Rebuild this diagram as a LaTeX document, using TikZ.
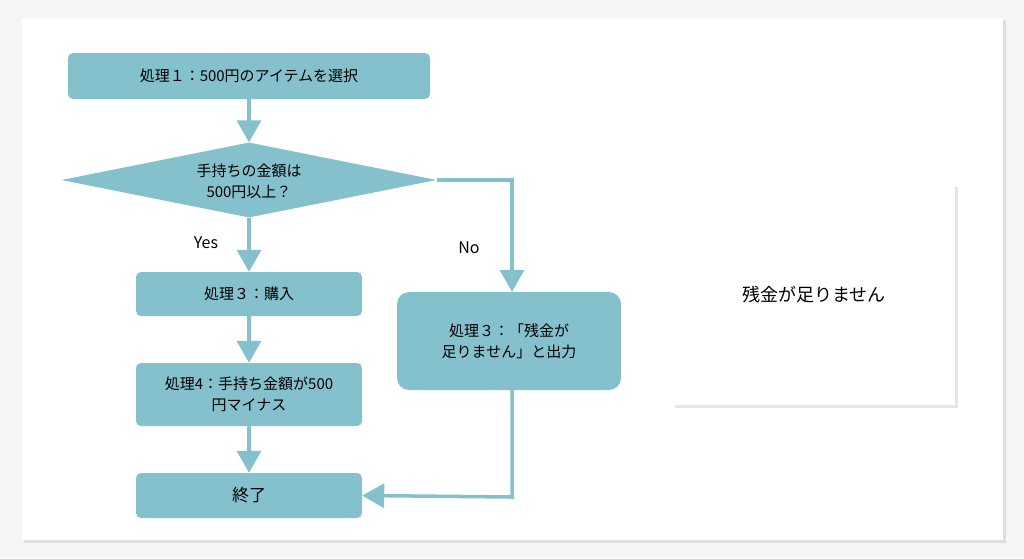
\documentclass[tikz,border=0pt]{standalone}
\usepackage{fontspec}
\setmainfont{Noto Sans CJK JP}
\usetikzlibrary{arrows.meta,shapes.geometric}
\definecolor{teal}{HTML}{85C1CC}
\begin{document}
\begin{tikzpicture}[x=1pt,y=-1pt,
  box/.style={fill=teal,rounded corners=5pt,inner sep=0pt,align=center,font=\fontsize{15}{21}\selectfont},
  arr/.style={draw=teal,line width=3.5pt,-{Triangle[length=22pt,width=24pt]}},
  lab/.style={font=\fontsize{16}{20}\selectfont}]
\useasboundingbox (0,0) rectangle (1024,558);
\fill[gray!8] (0,0) rectangle (1024,558);
\fill[gray!25] (24,20) rectangle (1006,543);
\fill[white] (22,18) rectangle (1003,540);
\fill[gray!20] (675,187) rectangle (958,408);
\fill[white] (673,185) rectangle (955,405);
\node[lab,font=\fontsize{18}{22}\selectfont] (msg) at (814,295) {残金が足りません};
\node[box,minimum width=362pt,minimum height=46pt] (b1) at (249,76) {処理１：500円のアイテムを選択};
\node[diamond,fill=teal,inner sep=0pt,minimum width=375pt,minimum height=75pt,aspect=5,align=center,font=\fontsize{15}{21}\selectfont] (d) at (249,180) {};
\node[align=center,font=\fontsize{15}{21}\selectfont] (dt) at (249,181) {手持ちの金額は\\500円以上？};
\node[box,minimum width=226pt,minimum height=44pt] (b3) at (249,294) {処理３：購入};
\node[box,minimum width=226pt,minimum height=63pt] (b4) at (249,394.5) {処理4：手持ち金額が500\\円マイナス};
\node[box,minimum width=226pt,minimum height=45pt,font=\fontsize{17}{21}\selectfont] (e) at (249,495.5) {終了};
\node[box,rounded corners=12pt,minimum width=224pt,minimum height=98pt] (r) at (509,341) {処理３：「残金が\\足りません」と出力};
\node[lab] (yes) at (206,243) {Yes};
\node[lab] (no) at (469,248) {No};
\coordinate (c1) at (512,180);
\coordinate (c2) at (512,497);
\draw[arr] (b1.south) -- (d.north);
\draw[arr] (d.south) -- (b3.north);
\draw[arr] (b3.south) -- (b4.north);
\draw[arr] (b4.south) -- (e.north);
\draw[arr] (d.east) -- (c1) -- (c1 |- r.north);
\draw[arr] (r.south -| c2) -- (c2) -- (e.east);
\end{tikzpicture}
\end{document}
